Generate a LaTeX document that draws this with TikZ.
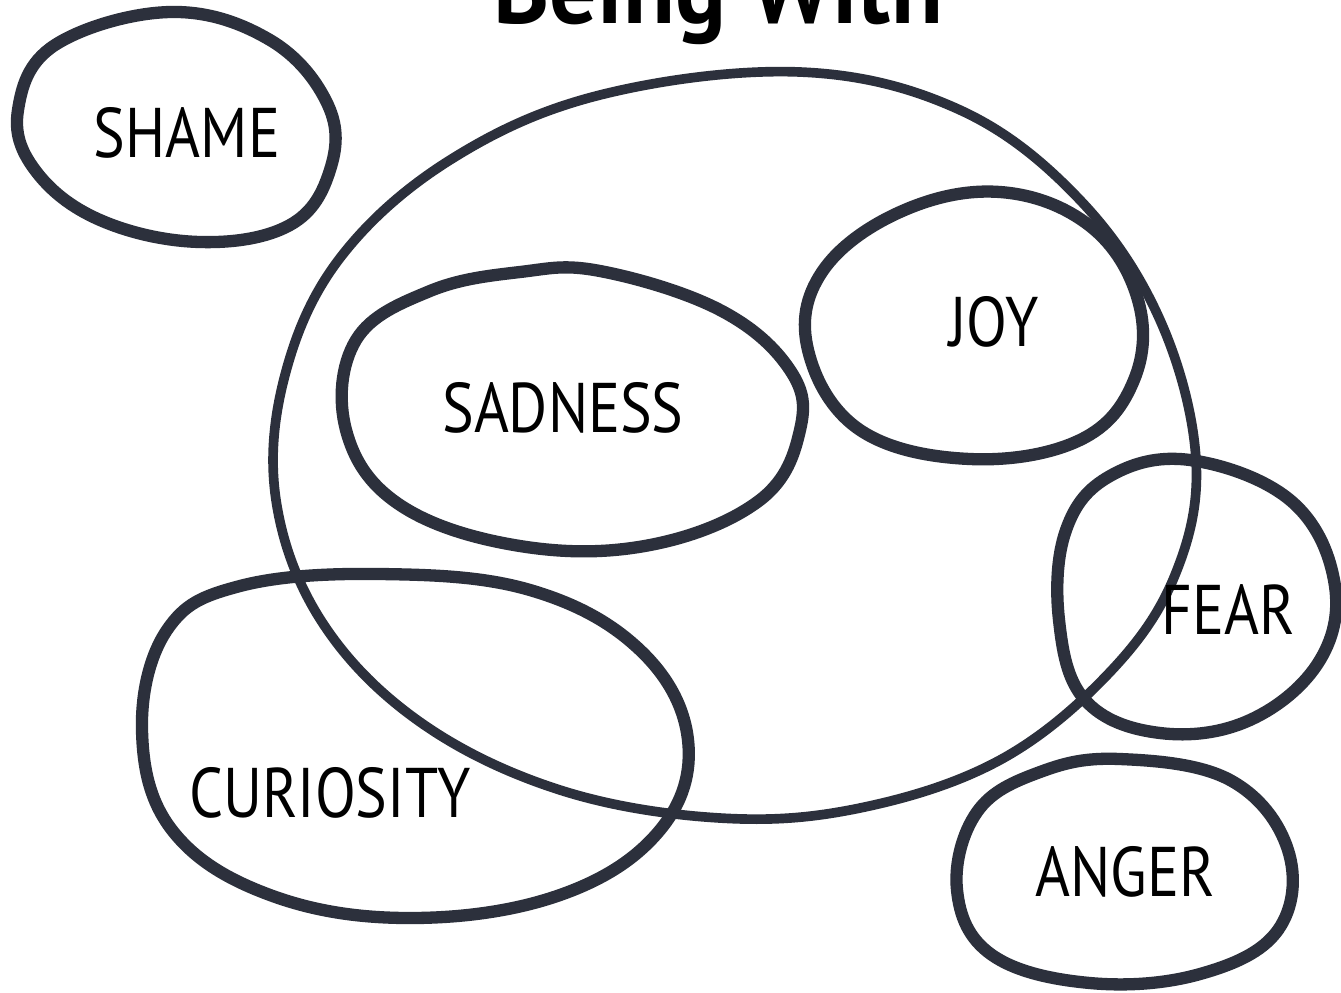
\documentclass[tikz,border=0pt]{standalone}
\usepackage{fontspec}
\setmainfont{PT Sans}[FakeStretch=0.85]
\newfontfamily\titlefont{PT Sans}[FakeStretch=0.95]
\usepackage{tikz}
\usetikzlibrary{positioning}
\definecolor{ink}{RGB}{44,48,60}

\tikzset{
    blob/.style={draw=ink, line width=7pt, line join=round},
    bigblob/.style={draw=ink, line width=5.5pt, line join=round},
    feeling/.style={font=\fontsize{40}{44}\selectfont, text=black, inner sep=0pt}
}

\begin{document}
\begin{tikzpicture}[x=0.02cm, y=-0.02cm]
    \useasboundingbox (0,0) rectangle (1341,992);
    \fill[white] (0,0) rectangle (1341,992);

    % Title, cut at the top edge
    \begin{scope}
        \clip (0,0) rectangle (1341,992);
        \node[font=\titlefont\bfseries\fontsize{57}{60}\selectfont, anchor=base] (title) at (718,23) {Being With};
    \end{scope}

    % Big circle
    \draw[bigblob] plot[smooth cycle, tension=0.62] coordinates {
        (800,72) (960,110) (1080,200) (1160,320) (1196,460) (1175,575)
        (1110,672) (1000,760) (860,808) (720,818) (560,790) (420,722)
        (322,622) (276,500) (285,375) (340,258) (450,160) (600,95)};

    % Shame
    \draw[blob] plot[smooth cycle, tension=0.65] coordinates {
        (170,12) (270,40) (328,105) (330,170) (290,225) (200,242)
        (100,220) (35,170) (18,110) (55,45)};
    \node[feeling] (shame) at (187,133) {SHAME};

    % Sadness
    \draw[blob] plot[smooth cycle, tension=0.65] coordinates {
        (600,271) (720,310) (790,370) (800,430) (760,500) (650,545)
        (520,546) (400,505) (346,430) (356,340) (430,291) (520,272)};
    \node[feeling] (sadness) at (563,408) {SADNESS};

    % Joy
    \draw[blob] plot[smooth cycle, tension=0.65] coordinates {
        (1000,192) (1090,226) (1138,300) (1134,380) (1080,440) (970,459)
        (860,430) (808,350) (822,272) (900,212)};
    \node[feeling] (joy) at (994,322) {JOY};

    % Fear
    \draw[blob] plot[smooth cycle, tension=0.65] coordinates {
        (1190,460) (1290,500) (1334,580) (1320,660) (1250,720) (1160,733)
        (1085,700) (1059,620) (1066,530) (1110,476)};
    \node[feeling] (fear) at (1228,609) {FEAR};

    % Curiosity
    \draw[blob] plot[smooth cycle, tension=0.65] coordinates {
        (380,574) (530,590) (640,650) (688,740) (660,830) (560,895)
        (410,918) (270,895) (172,830) (142,730) (167,630) (240,586)};
    \node[feeling] (curiosity) at (330,793) {CURIOSITY};

    % Anger
    \draw[blob] plot[smooth cycle, tension=0.65] coordinates {
        (1120,759) (1230,780) (1288,850) (1278,930) (1200,974) (1090,983)
        (992,955) (957,890) (977,812) (1040,772)};
    \node[feeling] (anger) at (1125,872) {ANGER};
\end{tikzpicture}
\end{document}
